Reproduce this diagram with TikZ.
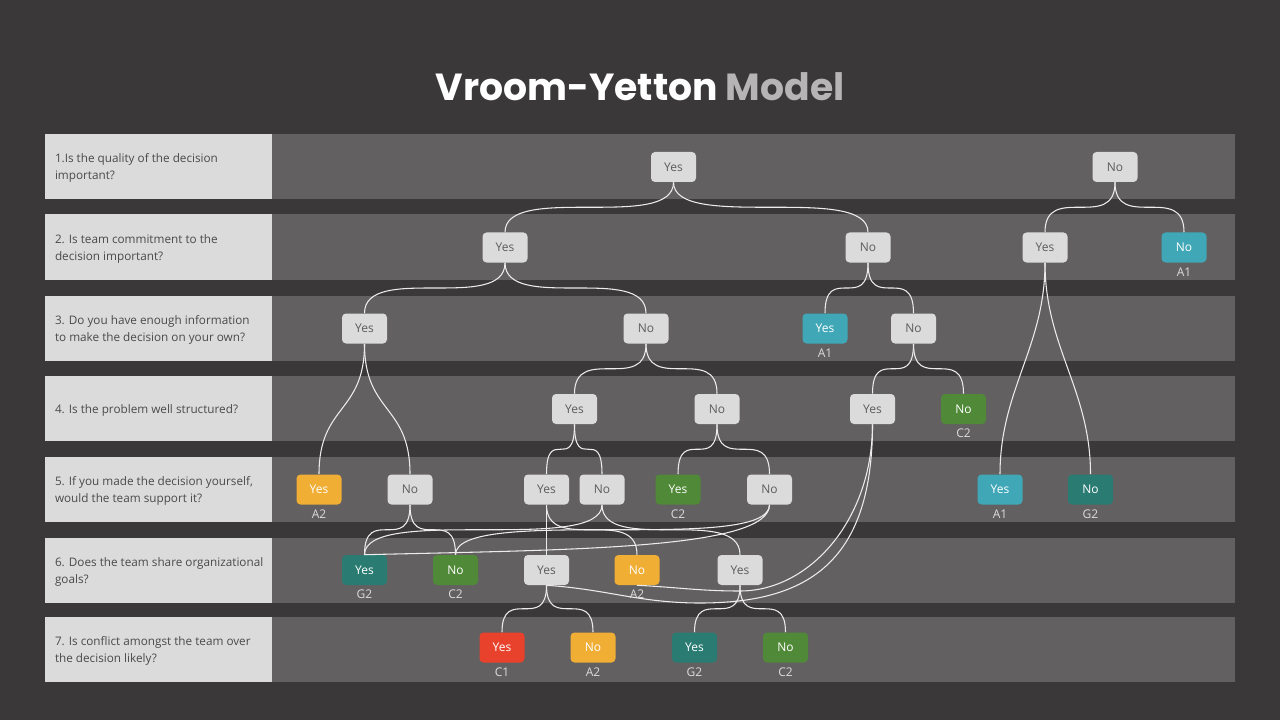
\documentclass[tikz,border=0pt]{standalone}
\usepackage{fontspec}
\setmainfont{Open Sans}
\newfontfamily\titlefont{Poppins}
\definecolor{SlideBg}{RGB}{59,56,57}
\definecolor{BandGray}{RGB}{99,96,97}
\definecolor{PanelGray}{RGB}{220,219,220}
\definecolor{QuestText}{RGB}{74,74,74}
\definecolor{ChoiceText}{RGB}{92,92,92}
\definecolor{AquaBlue}{RGB}{64,167,183}
\definecolor{DeepTeal}{RGB}{42,124,115}
\definecolor{LeafGreen}{RGB}{80,137,55}
\definecolor{AmberOrange}{RGB}{240,174,52}
\definecolor{AlertRed}{RGB}{232,66,45}
\definecolor{ModelGray}{RGB}{182,180,181}
\definecolor{LinkWhite}{RGB}{236,236,236}
\usetikzlibrary{positioning,calc}

\begin{document}
\begin{tikzpicture}[x=0.75pt, y=-0.75pt,
      every node/.style={font=\fontsize{9}{11}\selectfont},
      title/.style={font=\titlefont\bfseries\fontsize{28.3}{32}\selectfont, text=white},
      panel/.style={fill=PanelGray, minimum width=170.25pt, minimum height=48.75pt, inner sep=0pt},
      band/.style={fill=BandGray, minimum width=722.25pt, minimum height=48.75pt, inner sep=0pt},
      question/.style={align=left, text=QuestText, inner sep=0pt, yshift=-1.4pt, font=\fontsize{8.8}{12.75}\selectfont},
      choice/.style={rounded corners=3pt, minimum width=33.75pt, minimum height=22.5pt, inner sep=0pt, fill=PanelGray, text=ChoiceText},
      aqua/.style={choice, fill=AquaBlue, text=white},
      teal/.style={choice, fill=DeepTeal, text=white},
      green/.style={choice, fill=LeafGreen, text=white},
      amber/.style={choice, fill=AmberOrange, text=white},
      alert/.style={choice, fill=AlertRed, text=white},
      code/.style={text=PanelGray, inner sep=1pt},
      link/.style={draw=LinkWhite, line width=0.8pt},
      fork/.style={to path={.. controls (\tikztostart |- \tikztotarget) and (\tikztotarget |- \tikztostart) .. (\tikztotarget)}},
      longfork/.style={out=-90, in=90, looseness=#1},
      longfork/.default=1
  ]
    \fill[SlideBg] (0,0) rectangle (1280,720);
    \useasboundingbox (0,0) rectangle (1280,720);

    \node[title] (title) at (640,87) {Vroom-Yetton {\color{ModelGray}Model}};

    % question rows
    \node[panel] (p1) at (158.5,166.5) {};
    \node[band] (b1) at (753.5,166.5) {};
    \node[question, right=7.5pt of p1.west] (q1) {1.Is the quality of the decision\\important?};
    \node[panel] (p2) at (158.5,247) {};
    \node[band] (b2) at (753.5,247) {};
    \node[question, right=7.5pt of p2.west] (q2) {2. Is team commitment to the\\decision important?};
    \node[panel] (p3) at (158.5,328) {};
    \node[band] (b3) at (753.5,328) {};
    \node[question, right=7.5pt of p3.west] (q3) {3. Do you have enough information\\to make the decision on your own?};
    \node[panel] (p4) at (158.5,408.5) {};
    \node[band] (b4) at (753.5,408.5) {};
    \node[question, right=7.5pt of p4.west] (q4) {4. Is the problem well structured?};
    \node[panel] (p5) at (158.5,489) {};
    \node[band] (b5) at (753.5,489) {};
    \node[question, right=7.5pt of p5.west] (q5) {5. If you made the decision yourself,\\would the team support it?};
    \node[panel] (p6) at (158.5,570) {};
    \node[band] (b6) at (753.5,570) {};
    \node[question, right=7.5pt of p6.west] (q6) {6. Does the team share organizational\\goals?};
    \node[panel] (p7) at (158.5,649) {};
    \node[band] (b7) at (753.5,649) {};
    \node[question, right=7.5pt of p7.west] (q7) {7. Is conflict amongst the team over\\the decision likely?};

    % answers
    \node[choice] (r1a) at (673.5,167) {Yes};
    \node[choice] (r1b) at (1115,167) {No};

    \node[choice] (r2a) at (505,247.5) {Yes};
    \node[choice] (r2b) at (868,247.5) {No};
    \node[choice] (r2c) at (1045,247.5) {Yes};
    \node[aqua] (r2d) at (1184,247.5) {No};
    \node[code, below=2.5pt of r2d] (c2d) {A1};

    \node[choice] (r3a) at (364.5,328.5) {Yes};
    \node[choice] (r3b) at (646,328.5) {No};
    \node[aqua] (r3c) at (825,328.5) {Yes};
    \node[code, below=2.5pt of r3c] (c3c) {A1};
    \node[choice] (r3d) at (913.5,328.5) {No};

    \node[choice] (r4a) at (574.5,409) {Yes};
    \node[choice] (r4b) at (717,409) {No};
    \node[choice] (r4c) at (872.5,409) {Yes};
    \node[green] (r4d) at (963.5,409) {No};
    \node[code, below=2.5pt of r4d] (c4d) {C2};

    \node[amber] (r5a) at (319,489.5) {Yes};
    \node[code, below=2.5pt of r5a] (c5a) {A2};
    \node[choice] (r5b) at (410,489.5) {No};
    \node[choice] (r5c) at (546.5,489.5) {Yes};
    \node[choice] (r5d) at (602,489.5) {No};
    \node[green] (r5e) at (678,489.5) {Yes};
    \node[code, below=2.5pt of r5e] (c5e) {C2};
    \node[choice] (r5f) at (769.5,489.5) {No};
    \node[aqua] (r5g) at (1000,489.5) {Yes};
    \node[code, below=2.5pt of r5g] (c5g) {A1};
    \node[teal] (r5h) at (1090.5,489.5) {No};
    \node[code, below=2.5pt of r5h] (c5h) {G2};

    \node[teal] (r6a) at (364.5,570) {Yes};
    \node[code, below=2.5pt of r6a] (c6a) {G2};
    \node[green] (r6b) at (455.5,570) {No};
    \node[code, below=2.5pt of r6b] (c6b) {C2};
    \node[choice] (r6c) at (546.5,570) {Yes};
    \node[amber] (r6d) at (637,570) {No};
    \node[code, below=2.5pt of r6d] (c6d) {A2};
    \node[choice] (r6e) at (740,570) {Yes};

    \node[alert] (r7a) at (502,647.5) {Yes};
    \node[code, below=2.5pt of r7a] (c7a) {C1};
    \node[amber] (r7b) at (593,647.5) {No};
    \node[code, below=2.5pt of r7b] (c7b) {A2};
    \node[teal] (r7c) at (694.5,647.5) {Yes};
    \node[code, below=2.5pt of r7c] (c7c) {G2};
    \node[green] (r7d) at (785.5,647.5) {No};
    \node[code, below=2.5pt of r7d] (c7d) {C2};

    % branches
    \draw[link] (r1a.south) to[fork] (r2a.north);
    \draw[link] (r1a.south) to[fork] (r2b.north);
    \draw[link] (r1b.south) to[fork] (r2c.north);
    \draw[link] (r1b.south) to[fork] (r2d.north);
    \draw[link] (r2a.south) to[fork] (r3a.north);
    \draw[link] (r2a.south) to[fork] (r3b.north);
    \draw[link] (r2b.south) to[fork] (r3c.north);
    \draw[link] (r2b.south) to[fork] (r3d.north);
    \draw[link] (r2c.south) to[longfork] (r5g.north);
    \draw[link] (r2c.south) to[longfork] (r5h.north);
    \draw[link] (r3a.south) to[longfork=1.3] (r5a.north);
    \draw[link] (r3a.south) to[longfork=1.3] (r5b.north);
    \draw[link] (r3b.south) to[fork] (r4a.north);
    \draw[link] (r3b.south) to[fork] (r4b.north);
    \draw[link] (r3d.south) to[fork] (r4c.north);
    \draw[link] (r3d.south) to[fork] (r4d.north);
    \draw[link] (r4a.south) to[fork] (r5c.north);
    \draw[link] (r4a.south) to[fork] (r5d.north);
    \draw[link] (r4b.south) to[fork] (r5e.north);
    \draw[link] (r4b.south) to[fork] (r5f.north);
    \draw[link] (r4c.south) .. controls +(0,136) and +(110,0) .. (700,603) .. controls +(-60,0) and +(60,4) .. (r6c.south);
    \draw[link] (r4c.south) .. controls +(0,95) and +(70,0) .. (740,591) .. controls +(-40,0) and +(40,2) .. (r6d.south);
    \draw[link] (r5b.south) to[fork] (r6a.north);
    \draw[link] (r5b.south) to[fork] (r6b.north);
    \draw[link] (r5c) -- (r6c);
    \draw[link] (r5c.south) to[fork] (r6d.north);
    \draw[link] (r5d.south) to[fork] (r6a.north);
    \draw[link] (r5d.south) to[fork] (r6e.north);
    \draw[link] (r5f.south) .. controls +(0,45) and +(200,-5) .. (r6a.north);
    \draw[link] (r5f.south) to[fork] (r6b.north);
    \draw[link] (r6c.south) to[fork] (r7a.north);
    \draw[link] (r6c.south) to[fork] (r7b.north);
    \draw[link] (r6e.south) to[fork] (r7c.north);
    \draw[link] (r6e.south) to[fork] (r7d.north);
  \end{tikzpicture}
\end{document}
